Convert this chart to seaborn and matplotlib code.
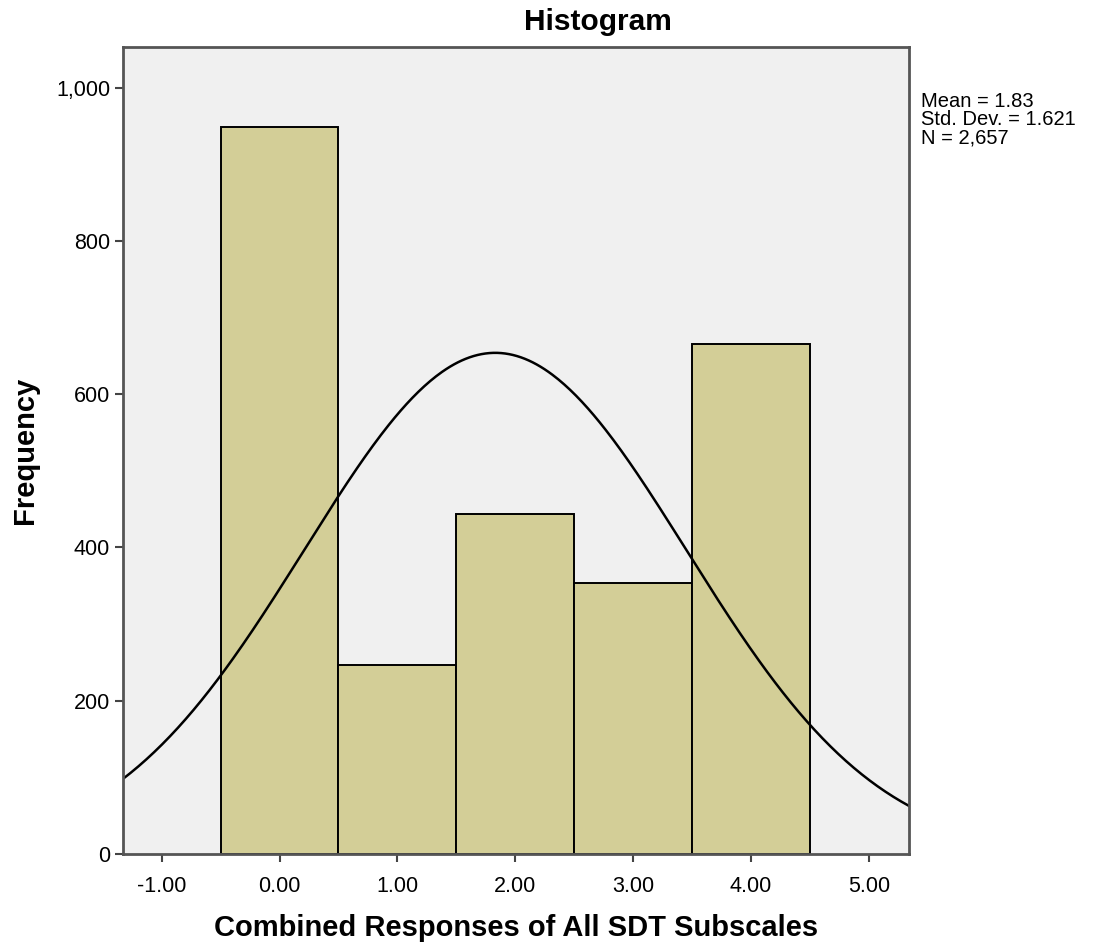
import numpy as np
import pandas as pd
import matplotlib
matplotlib.use("Agg")
import matplotlib.pyplot as plt
from matplotlib.ticker import FuncFormatter, FixedLocator
import seaborn as sns

# Score categories and their frequencies
scores = [0, 1, 2, 3, 4]
counts = [949, 246, 444, 353, 665]

# Summary statistics shown beside the plot
mean_val = 1.83
std_val = 1.621
n_total = 2657

x_ticks = [-1, 0, 1, 2, 3, 4, 5]
y_ticks = [0, 200, 400, 600, 800, 1000]

sns.set_theme(style="white")
plt.rcParams["font.family"] = ["Liberation Sans", "DejaVu Sans"]
plt.rcParams["text.color"] = "black"
plt.rcParams["axes.labelcolor"] = "black"

fig = plt.figure(figsize=(10.93, 9.47), dpi=100)
ax = fig.add_axes([0.1123, 0.0982, 0.7194, 0.8522])
ax.set_facecolor("#F0F0F0")

df = pd.DataFrame({"score": scores, "count": counts})
sns.histplot(data=df, x="score", weights="count", discrete=True, ax=ax,
             color="#D3CE97", alpha=1.0, edgecolor="black", linewidth=1.4)

# Normal curve scaled to frequency (bin width 1)
xs = np.linspace(-1.33, 5.34, 400)
ys = n_total * 1.0 / (std_val * np.sqrt(2 * np.pi)) * np.exp(-0.5 * ((xs - mean_val) / std_val) ** 2)
sns.lineplot(x=xs, y=ys, ax=ax, color="black", linewidth=1.8)

ax.set_xlim(-1.33, 5.34)
ax.set_ylim(0, 1053)
ax.xaxis.set_major_locator(FixedLocator(x_ticks))
ax.yaxis.set_major_locator(FixedLocator(y_ticks))
ax.xaxis.set_major_formatter(FuncFormatter(lambda v, p: f"{v:.2f}"))
ax.yaxis.set_major_formatter(FuncFormatter(lambda v, p: f"{v:,.0f}"))

ax.tick_params(axis="both", which="major", direction="out", length=6, width=1.5,
               color="#444444", labelsize=15.5, labelcolor="black",
               left=True, bottom=True, pad=3)
ax.tick_params(axis="x", pad=10)
for s in ax.spines.values():
    s.set_color("#555555")
    s.set_linewidth(2)
    s.set_visible(True)

ax.set_xlabel("Combined Responses of All SDT Subscales", fontsize=21,
              fontweight="bold", labelpad=12)
ax.set_ylabel("Frequency", fontsize=21, fontweight="bold", labelpad=12)
fig.text(598 / 1093, 1 - 22 / 947, "Histogram", fontsize=21.5, fontweight="bold",
         ha="center", va="center")

fig.text(0.843, 0.903, f"Mean = {mean_val:.2f}\nStd. Dev. = {std_val:.3f}\nN = {n_total:,}",
         fontsize=14.5, va="top", ha="left", linespacing=0.95)

fig.savefig("out.png", dpi=100, facecolor="white")
